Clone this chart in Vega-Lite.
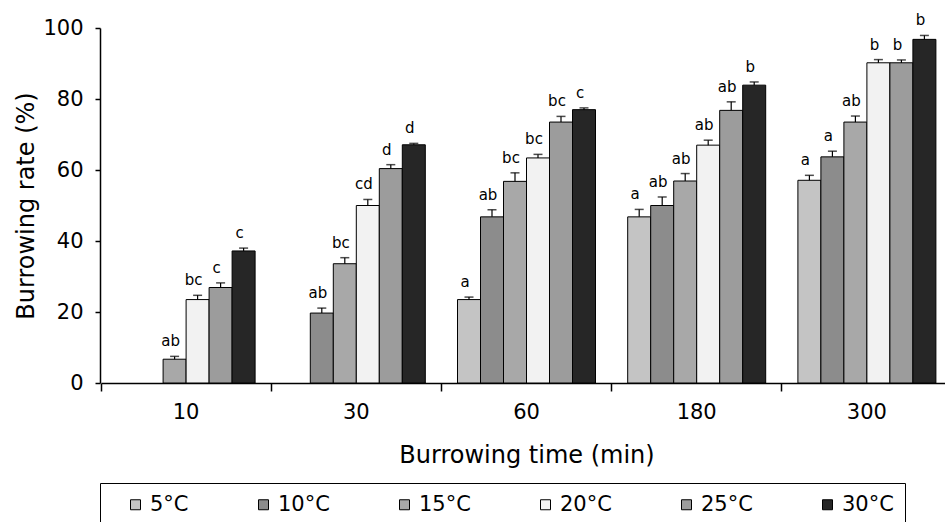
{
  "$schema": "https://vega.github.io/schema/vega-lite/v6.json",
  "width": 845,
  "height": 355,
  "autosize": {"type": "none"},
  "padding": {"left": 100, "top": 28, "right": 0, "bottom": 139},
  "background": "white",
  "config": {
    "view": {"stroke": null},
    "font": "DejaVu Sans",
    "axis": {
      "grid": false,
      "domainColor": "black",
      "domainWidth": 1.5,
      "tickColor": "black",
      "tickWidth": 1.5,
      "labelColor": "black",
      "titleColor": "black",
      "labelFont": "DejaVu Sans",
      "titleFont": "DejaVu Sans",
      "labelFontSize": 21,
      "titleFontSize": 24,
      "titleFontWeight": "normal"
    },
    "legend": {
      "labelFont": "DejaVu Sans",
      "titleFont": "DejaVu Sans",
      "labelFontSize": 21,
      "labelColor": "black"
    }
  },
  "data": {
    "values": [
      {"time": "10", "temp": "15°C", "rate": 6.7, "upper": 7.5, "letter": "ab"},
      {"time": "10", "temp": "20°C", "rate": 23.5, "upper": 24.7, "letter": "bc"},
      {"time": "10", "temp": "25°C", "rate": 26.9, "upper": 28.2, "letter": "c"},
      {"time": "10", "temp": "30°C", "rate": 37.2, "upper": 38.0, "letter": "c"},
      {"time": "30", "temp": "10°C", "rate": 19.7, "upper": 21.1, "letter": "ab"},
      {"time": "30", "temp": "15°C", "rate": 33.6, "upper": 35.3, "letter": "bc"},
      {"time": "30", "temp": "20°C", "rate": 50.0, "upper": 51.7, "letter": "cd"},
      {"time": "30", "temp": "25°C", "rate": 60.4, "upper": 61.5, "letter": "d"},
      {"time": "30", "temp": "30°C", "rate": 67.1, "upper": 67.5, "letter": "d"},
      {"time": "60", "temp": "5°C", "rate": 23.5, "upper": 24.2, "letter": "a"},
      {"time": "60", "temp": "10°C", "rate": 46.8, "upper": 48.8, "letter": "ab"},
      {"time": "60", "temp": "15°C", "rate": 56.8, "upper": 59.2, "letter": "bc"},
      {"time": "60", "temp": "20°C", "rate": 63.4, "upper": 64.4, "letter": "bc"},
      {"time": "60", "temp": "25°C", "rate": 73.5, "upper": 75.1, "letter": "bc"},
      {"time": "60", "temp": "30°C", "rate": 77.0, "upper": 77.5, "letter": "c"},
      {"time": "180", "temp": "5°C", "rate": 46.8, "upper": 48.9, "letter": "a"},
      {"time": "180", "temp": "10°C", "rate": 50.0, "upper": 52.4, "letter": "ab"},
      {"time": "180", "temp": "15°C", "rate": 56.9, "upper": 59.0, "letter": "ab"},
      {"time": "180", "temp": "20°C", "rate": 67.0, "upper": 68.4, "letter": "ab"},
      {"time": "180", "temp": "25°C", "rate": 76.8, "upper": 79.2, "letter": "ab"},
      {"time": "180", "temp": "30°C", "rate": 83.9, "upper": 84.8, "letter": "b"},
      {"time": "300", "temp": "5°C", "rate": 57.1, "upper": 58.5, "letter": "a"},
      {"time": "300", "temp": "10°C", "rate": 63.7, "upper": 65.3, "letter": "a"},
      {"time": "300", "temp": "15°C", "rate": 73.5, "upper": 75.2, "letter": "ab"},
      {"time": "300", "temp": "20°C", "rate": 90.2, "upper": 91.1, "letter": "b"},
      {"time": "300", "temp": "25°C", "rate": 90.2, "upper": 91.0, "letter": "b"},
      {"time": "300", "temp": "30°C", "rate": 96.8, "upper": 97.9, "letter": "b"}
    ]
  },
  "encoding": {
    "x": {
      "field": "time",
      "type": "ordinal",
      "sort": ["10", "30", "60", "180", "300"],
      "scale": {"range": [1, 852], "paddingInner": 0, "paddingOuter": 0},
      "axis": {
        "title": "Burrowing time (min)",
        "labelAngle": 0,
        "ticks": true,
        "tickSize": 8,
        "bandPosition": 0,
        "labelPadding": 10,
        "titleY": 79,
        "titleBaseline": "alphabetic"
      }
    },
    "xOffset": {
      "field": "temp",
      "type": "nominal",
      "sort": ["5°C", "10°C", "15°C", "20°C", "25°C", "30°C"],
      "scale": {"domain": ["5°C", "10°C", "15°C", "20°C", "25°C", "30°C"], "paddingInner": 0, "paddingOuter": 0.7}
    }
  },
  "layer": [
    {
      "mark": {"type": "bar", "stroke": "black", "strokeWidth": 1},
      "encoding": {
        "y": {
          "field": "rate",
          "type": "quantitative",
          "scale": {"domain": [0, 100], "nice": false},
          "axis": {
            "title": "Burrowing rate (%)",
            "values": [0, 20, 40, 60, 80, 100],
            "ticks": true,
            "tickSize": 5,
            "labelPadding": 12,
            "titleX": -67,
            "titleBaseline": "alphabetic"
          }
        },
        "fill": {
          "field": "temp",
          "type": "nominal",
          "scale": {
            "domain": ["5°C", "10°C", "15°C", "20°C", "25°C", "30°C"],
            "range": ["#c4c4c4", "#8c8c8c", "#a8a8a8", "#f2f2f2", "#9c9c9c", "#262626"]
          },
          "legend": {
            "title": " ",
            "titleOrient": "left",
            "titlePadding": 14,
            "titleFontSize": 21,
            "orient": "none",
            "legendX": 0,
            "legendY": 455,
            "direction": "horizontal",
            "columns": 6,
            "columnPadding": 64,
            "symbolType": "square",
            "symbolSize": 100,
            "symbolStrokeColor": "black",
            "symbolStrokeWidth": 1,
            "labelOffset": 4,
            "padding": 11,
            "strokeColor": "black"
          }
        }
      }
    },
    {
      "mark": {"type": "rule", "color": "black", "strokeWidth": 1.2},
      "encoding": {
        "y": {"field": "rate", "type": "quantitative"},
        "y2": {"field": "upper"}
      }
    },
    {
      "mark": {"type": "tick", "color": "black", "thickness": 1.5},
      "encoding": {
        "y": {"field": "upper", "type": "quantitative"},
        "size": {"value": 9}
      }
    },
    {
      "mark": {"type": "text", "baseline": "alphabetic", "dy": -10, "dx": -4, "fontSize": 15, "font": "DejaVu Sans", "color": "black"},
      "encoding": {
        "y": {"field": "upper", "type": "quantitative"},
        "text": {"field": "letter"}
      }
    }
  ]
}
